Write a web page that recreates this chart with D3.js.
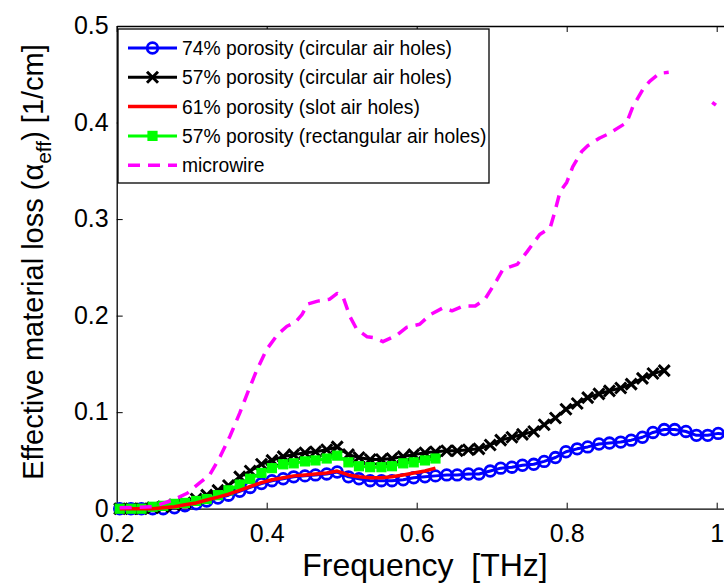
<!DOCTYPE html>
<html>
<head>
<meta charset="utf-8">
<script src="https://cdn.jsdelivr.net/npm/d3@7"></script>
<style>
  html, body { margin: 0; padding: 0; background: #fff; }
  svg { display: block; font-family: "Liberation Sans", Arial, sans-serif; }
</style>
</head>
<body>
<svg id="chart" width="724" height="586"></svg>
<script>
// Frequency grid shared by the measured fibre samples (THz)
const freq = [0.204, 0.219, 0.233, 0.248, 0.262, 0.277, 0.291, 0.306, 0.320, 0.335,
              0.349, 0.364, 0.378, 0.393, 0.407, 0.422, 0.436, 0.451, 0.465, 0.480,
              0.494, 0.509, 0.523, 0.538, 0.553, 0.567, 0.582, 0.596, 0.611, 0.625,
              0.640, 0.654, 0.669, 0.683, 0.698, 0.712, 0.727, 0.741, 0.756, 0.770,
              0.785, 0.799, 0.814, 0.828, 0.843, 0.857, 0.872, 0.886, 0.901, 0.915,
              0.930, 0.944, 0.959, 0.973, 0.988, 1.002, 1.017];

// Effective material loss, 1/cm
const circular74 = [0.000, 0.000, 0.000, 0.000, 0.000, 0.001, 0.003, 0.005, 0.008, 0.011,
                    0.014, 0.018, 0.022, 0.026, 0.029, 0.031, 0.033, 0.034, 0.035, 0.036,
                    0.038, 0.033, 0.031, 0.029, 0.029, 0.029, 0.030, 0.032, 0.033, 0.034,
                    0.035, 0.035, 0.036, 0.036, 0.039, 0.042, 0.043, 0.045, 0.046, 0.049,
                    0.053, 0.059, 0.062, 0.064, 0.067, 0.068, 0.069, 0.071, 0.074, 0.079,
                    0.082, 0.082, 0.080, 0.076, 0.076, 0.078, 0.077];

const circular57 = [0.000, 0.000, 0.000, 0.001, 0.002, 0.004, 0.006, 0.010, 0.014, 0.019,
                    0.024, 0.033, 0.039, 0.046, 0.050, 0.054, 0.056, 0.058, 0.059, 0.061,
                    0.064, 0.056, 0.053, 0.051, 0.051, 0.052, 0.054, 0.056, 0.058, 0.059,
                    0.060, 0.060, 0.061, 0.062, 0.066, 0.071, 0.074, 0.077, 0.080, 0.087,
                    0.094, 0.103, 0.109, 0.115, 0.119, 0.122, 0.125, 0.129, 0.135, 0.140,
                    0.143];

const slot61 = [0.000, 0.000, 0.000, 0.000, 0.001, 0.002, 0.004, 0.006, 0.009, 0.012,
                0.015, 0.019, 0.023, 0.027, 0.030, 0.032, 0.034, 0.035, 0.036, 0.037,
                0.039, 0.035, 0.033, 0.032, 0.032, 0.033, 0.035, 0.037, 0.039, 0.042];

const rect57 = [0.000, 0.000, 0.000, 0.002, 0.003, 0.005, 0.006, 0.008, 0.010, 0.014,
                0.019, 0.025, 0.031, 0.037, 0.042, 0.046, 0.047, 0.049, 0.050, 0.052,
                0.055, 0.048, 0.044, 0.043, 0.043, 0.044, 0.047, 0.048, 0.050, 0.052];

// Microwire reference (own frequency samples; null marks a gap in the trace)
const wireFreq = [0.204, 0.248, 0.275, 0.294, 0.311, 0.324, 0.338, 0.351, 0.364, 0.375,
                  0.387, 0.400, 0.414, 0.427, 0.438, 0.447, 0.455, 0.468, 0.484, 0.494,
                  0.502, 0.511, 0.520, 0.534, 0.544, 0.555, 0.574, 0.587, 0.604, 0.618,
                  0.635, 0.647, 0.662, 0.678, 0.691, 0.707, 0.715, 0.734, 0.747, 0.764,
                  0.778, 0.784, 0.791, 0.800, 0.808, 0.820, 0.828, 0.844, 0.855, 0.880,
                  0.888, 0.902, 0.911, 0.924, 0.936, 0.965, 0.994, 0.999];
const wireLoss = [0.001, 0.002, 0.009, 0.016, 0.027, 0.035, 0.054, 0.075, 0.099, 0.121,
                  0.144, 0.165, 0.180, 0.189, 0.193, 0.201, 0.212, 0.215, 0.217, 0.223,
                  0.219, 0.199, 0.186, 0.178, 0.177, 0.173, 0.180, 0.188, 0.191, 0.201,
                  0.208, 0.205, 0.210, 0.210, 0.217, 0.237, 0.248, 0.253, 0.266, 0.284,
                  0.291, 0.307, 0.328, 0.338, 0.354, 0.370, 0.376, 0.384, 0.388, 0.400,
                  0.416, 0.435, 0.443, 0.451, 0.452, null, 0.421, 0.418];

const xTicks = [0.2, 0.4, 0.6, 0.8, 1.0];
const yTicks = [0, 0.1, 0.2, 0.3, 0.4, 0.5];

const legendLabels = [
  "74% porosity (circular air holes)",
  "57% porosity (circular air holes)",
  "61% porosity (slot air holes)",
  "57% porosity (rectangular air holes)",
  "microwire"
];

const svg = d3.select("#chart");

const x = d3.scaleLinear().domain([0.2, 1.2]).range([116.7, 866.7]);
const y = d3.scaleLinear().domain([0, 0.5]).range([508.7, 26]);

const plotTop = y(0.5), plotBottom = y(0), plotLeft = x(0.2);

const fmt = d => (d === 0 ? "0" : d === 1 ? "1" : d3.format(".1f")(d));

const xAxis = svg.append("g")
  .attr("transform", `translate(0,${plotBottom})`)
  .call(d3.axisBottom(x).tickValues(xTicks).tickFormat(fmt)
        .tickSizeInner(-6).tickSizeOuter(0).tickPadding(15));
const xAxisTop = svg.append("g")
  .attr("transform", `translate(0,${plotTop})`)
  .call(d3.axisTop(x).tickValues(xTicks).tickFormat("")
        .tickSizeInner(-6).tickSizeOuter(0));
const yAxis = svg.append("g")
  .attr("transform", `translate(${plotLeft},0)`)
  .call(d3.axisLeft(y).tickValues(yTicks).tickFormat(fmt)
        .tickSizeInner(-6).tickSizeOuter(0).tickPadding(8));

[xAxis, xAxisTop, yAxis].forEach(g => {
  g.select(".domain").attr("stroke", "#000").attr("stroke-width", 1.3);
  g.selectAll(".tick line").attr("stroke", "#000").attr("stroke-width", 1);
  g.selectAll(".tick text")
    .attr("fill", "#000")
    .style("font-family", "'Liberation Sans', Arial, sans-serif")
    .style("font-size", "25px");
});
xAxis.selectAll(".tick text").attr("dy", "0.72em");
yAxis.selectAll(".tick text").attr("dy", "0.3em");

// axis titles
svg.append("text")
  .attr("x", 425).attr("y", 576)
  .attr("text-anchor", "middle")
  .style("font-size", "32px")
  .text("Frequency\u00a0 [THz]");

const yl = svg.append("text")
  .attr("transform", "translate(43,262) rotate(-90)")
  .attr("text-anchor", "middle")
  .style("font-size", "29px");
yl.append("tspan").text("Effective material loss (\u03b1");
yl.append("tspan").attr("dy", 8).style("font-size", "21px").text("eff");
yl.append("tspan").attr("dy", -8).text(") [1/cm]");

// data marks
const line = d3.line()
  .defined(d => d[1] !== null)
  .x(d => x(d[0])).y(d => y(d[1]));

const pairs = (fs, vs) => vs.map((v, i) => [fs[i], v]);

const series = [
  { key: "c74", values: pairs(freq, circular74), color: "#0000ff", marker: "circle", width: 3 },
  { key: "c57", values: pairs(freq, circular57), color: "#000000", marker: "cross", width: 3 },
  { key: "s61", values: pairs(freq, slot61), color: "#ff0000", marker: null, width: 3.5 },
  { key: "r57", values: pairs(freq, rect57), color: "#00ff00", marker: "square", width: 3 },
  { key: "wire", values: pairs(wireFreq, wireLoss), color: "#ff00ff", marker: null, width: 3.5, dash: "12,8" }
];

function drawMarker(g, type, color, cx, cy) {
  if (type === "circle") {
    g.append("circle").attr("cx", cx).attr("cy", cy).attr("r", 5.3)
      .attr("fill", "none").attr("stroke", color).attr("stroke-width", 2.8);
  } else if (type === "cross") {
    const s = 5.5;
    g.append("path")
      .attr("d", `M${cx - s},${cy - s}L${cx + s},${cy + s}M${cx - s},${cy + s}L${cx + s},${cy - s}`)
      .attr("stroke", color).attr("stroke-width", 3).attr("fill", "none");
  } else if (type === "square") {
    const s = 9;
    g.append("rect").attr("x", cx - s / 2).attr("y", cy - s / 2)
      .attr("width", s).attr("height", s)
      .attr("fill", color).attr("stroke", color).attr("stroke-width", 1.2);
  }
}

// legend order and drawing order of the traces
const order = ["c74", "c57", "s61", "r57", "wire"];
const drawOrder = ["c74", "c57", "r57", "s61", "wire"];
drawOrder.forEach(k => {
  const s = series.find(d => d.key === k);
  const g = svg.append("g").attr("class", "series-" + k);
  g.append("path")
    .datum(s.values)
    .attr("d", line)
    .attr("fill", "none")
    .attr("stroke", s.color)
    .attr("stroke-width", s.width)
    .attr("stroke-linejoin", "round")
    .attr("stroke-dasharray", s.dash || null);
  if (s.marker) {
    s.values.forEach(d => { if (d[1] !== null) drawMarker(g, s.marker, s.color, x(d[0]), y(d[1])); });
  }
});

// legend
const lg = svg.append("g");
lg.append("rect")
  .attr("x", 118).attr("y", 29).attr("width", 371).attr("height", 154)
  .attr("fill", "#fff").attr("stroke", "#000").attr("stroke-width", 1.3);
order.forEach((k, i) => {
  const s = series.find(d => d.key === k);
  const cy = 48 + i * 29.3;
  lg.append("line")
    .attr("x1", 128).attr("x2", 177).attr("y1", cy).attr("y2", cy)
    .attr("stroke", s.color).attr("stroke-width", s.width)
    .attr("stroke-dasharray", s.dash || null);
  if (s.marker) drawMarker(lg, s.marker, s.color, 152.5, cy);
  lg.append("text")
    .attr("x", 182).attr("y", cy).attr("dy", "0.36em")
    .style("font-size", "19.3px")
    .text(legendLabels[i]);
});
</script>
</body>
</html>
